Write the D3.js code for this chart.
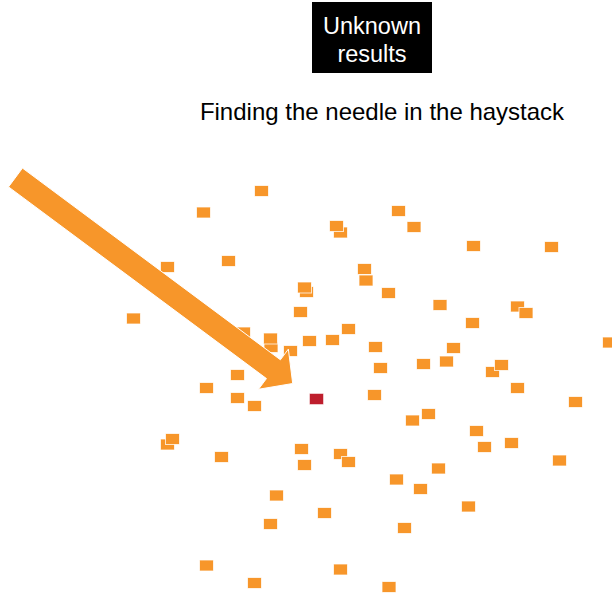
<!DOCTYPE html>
<html>
<head>
<meta charset="utf-8">
<script src="https://cdn.jsdelivr.net/npm/d3@7"></script>
<style>
  html, body { margin: 0; padding: 0; background: #fff; }
  svg { display: block; }
  text { font-family: "Liberation Sans", Arial, sans-serif; }
</style>
</head>
<body>
<div id="chart"></div>
<script>
// ---- data (haystack coordinates) ----
const titleLines = ["Unknown", "results"];
const subtitle = "Finding the needle in the haystack";

const hayX = [261.5,203.5,398.5,340.5,336.5,414,473.5,551.5,228.5,167.5,
              364.5,366,306.5,304.5,388.5,440,517.5,526,133.5,300.5,
              472.5,348.5,243.5,271,270.5,309.5,332.5,375.5,453.5,609.5,
              290.5,423.5,446.5,492.5,501.5,380.5,237.5,206.5,517.5,374.5,
              237.5,254.5,575.5,412.5,428.5,476.5,167.5,172.5,511.5,484.5,
              301.5,340.5,348.5,221.5,304.5,559.5,438.5,396.5,420.5,276.5,
              468.5,324.5,270.5,404.5,206.5,340.5,254.5,389];
const hayY = [191,212.5,211,232.5,226,227,246,247,261,267,
              269,280.5,292,287.5,293,305,306.5,313,318.5,312,
              323,329,332.5,347,338.5,341,340,347,348,342.5,
              351,364,361.5,372,365,368,375,388,388,395,
              398,406,402,420.5,414,431,444.5,439,443,447,
              449,454,462,457,465,460.5,468.5,479.5,489,495.5,
              506.5,513,524,528,565.5,569.5,583,587];
const needleX = [316.5];
const needleY = [399];

// arrow: tail centre and tip
const arrowFrom = [15.5, 177.5];
const arrowTo = [292.7, 383.5];

// ---- drawing ----
const W = 612, H = 594;
const svg = d3.select("#chart").append("svg").attr("width", W).attr("height", H);

const x = d3.scaleLinear().domain([0, 612]).range([0, W]);
const y = d3.scaleLinear().domain([0, 594]).range([0, H]);

const orange = "#F7962A";
const red = "#BE1E2D";
const sqW = 15, sqH = 12;

// title box
const boxG = svg.append("g");
boxG.append("rect")
  .attr("x", 312).attr("y", 2).attr("width", 120).attr("height", 71)
  .attr("fill", "#000");
boxG.selectAll("text").data(titleLines).join("text")
  .attr("x", 372).attr("y", (d, i) => 33.5 + i * 28.5)
  .attr("text-anchor", "middle")
  .attr("fill", "#fff")
  .attr("font-size", 23.5)
  .text(d => d);

svg.append("text")
  .attr("x", 382).attr("y", 120)
  .attr("text-anchor", "middle")
  .attr("fill", "#000")
  .attr("font-size", 24)
  .text(subtitle);

// haystack squares
const hay = hayX.map((v, i) => ({x: v, y: hayY[i]}));
svg.append("g").selectAll("rect").data(hay).join("rect")
  .attr("x", d => x(d.x) - sqW / 2 + 0.5)
  .attr("y", d => y(d.y) - sqH / 2 + 0.5)
  .attr("width", sqW - 1).attr("height", sqH - 1)
  .attr("fill", orange)
  .attr("stroke", "#fff").attr("stroke-opacity", 0.75).attr("stroke-width", 1);

// the needle
const needle = needleX.map((v, i) => ({x: v, y: needleY[i]}));
svg.append("g").selectAll("rect").data(needle).join("rect")
  .attr("x", d => x(d.x) - sqW / 2 + 0.5)
  .attr("y", d => y(d.y) - sqH / 2 + 0.5)
  .attr("width", sqW - 1).attr("height", sqH - 1)
  .attr("fill", red)
  .attr("stroke", "#fff").attr("stroke-opacity", 0.5).attr("stroke-width", 1);

// arrow
(function () {
  const x0 = x(arrowFrom[0]), y0 = y(arrowFrom[1]);
  const x1 = x(arrowTo[0]), y1 = y(arrowTo[1]);
  const len = Math.hypot(x1 - x0, y1 - y0);
  const dx = (x1 - x0) / len, dy = (y1 - y0) / len;
  const nx = -dy, ny = dx;
  const shaftHalf = 11.7, headHalf = 25, headLen = 24;
  const bx = x1 - dx * headLen, by = y1 - dy * headLen;
  const pts = [
    [x0 - nx * shaftHalf, y0 - ny * shaftHalf],
    [bx - nx * shaftHalf, by - ny * shaftHalf],
    [bx - nx * headHalf, by - ny * headHalf],
    [x1, y1],
    [bx + nx * headHalf, by + ny * headHalf],
    [bx + nx * shaftHalf, by + ny * shaftHalf],
    [x0 + nx * shaftHalf, y0 + ny * shaftHalf]
  ];
  svg.append("path")
    .attr("d", d3.line()(pts) + "Z")
    .attr("fill", orange)
    .attr("stroke", "#fff").attr("stroke-width", 1).attr("stroke-linejoin", "miter");
})();
</script>
</body>
</html>
